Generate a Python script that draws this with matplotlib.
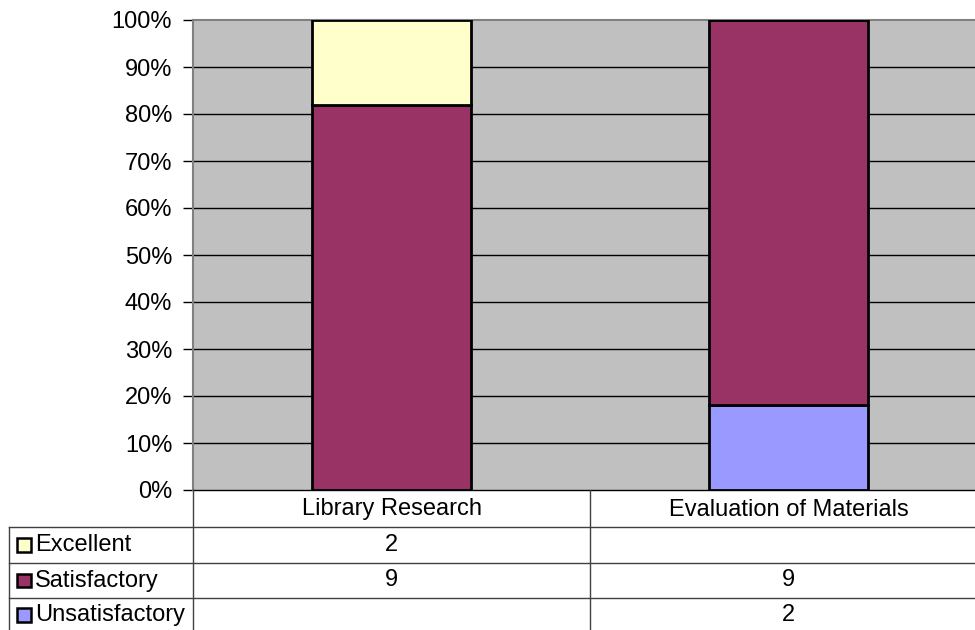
import matplotlib
matplotlib.use("Agg")
import matplotlib.pyplot as plt
from matplotlib.patches import Rectangle
import numpy as np

plt.rcParams['font.family'] = ['Liberation Sans', 'DejaVu Sans']

categories = ["Library Research", "Evaluation of Materials"]
series_names = ["Unsatisfactory", "Satisfactory", "Excellent"]
unsatisfactory = [None, 2]
satisfactory = [9, 9]
excellent = [2, None]
colors = {"Excellent": "#FFFFCC", "Satisfactory": "#993366", "Unsatisfactory": "#9999FF"}
yticks = [0, 10, 20, 30, 40, 50, 60, 70, 80, 90, 100]

W, H = 975, 630
FS = 17
fig = plt.figure(figsize=(W / 100, H / 100), dpi=100)
fig.patch.set_facecolor("white")

# plot area in pixel coordinates
L, R, T, B = 193, 987, 20, 490
ax = fig.add_axes([L / W, (H - B) / H, (R - L) / W, (B - T) / H])
ax.set_facecolor("#C0C0C0")

vals = {"Unsatisfactory": unsatisfactory, "Satisfactory": satisfactory, "Excellent": excellent}
x = np.arange(len(categories))
totals = np.zeros(len(categories))
for s in series_names:
    for i in range(len(categories)):
        v = vals[s][i]
        totals[i] += v if v else 0
bottom = np.zeros(len(categories))
for s in series_names:
    v = np.array([vv if vv else 0 for vv in vals[s]], dtype=float)
    pct = v / totals * 100
    ax.bar(x, pct, bottom=bottom, width=0.4, color=colors[s], edgecolor="black",
           linewidth=2, zorder=3)
    bottom += pct

ax.set_xlim(-0.5, len(categories) - 0.5)
ax.set_ylim(0, 100)
ax.set_yticks(yticks)
ax.set_yticklabels([f"{t}%" for t in yticks], fontsize=FS)
ax.set_xticks([])
ax.tick_params(axis="y", direction="out", length=7, width=1, color="black", pad=8)
for t in yticks[1:-1]:
    ax.axhline(t, color="black", linewidth=1, zorder=1)
for side in ["left", "top"]:
    ax.spines[side].set_color("#808080")
    ax.spines[side].set_linewidth(1.5)
ax.spines["right"].set_visible(False)
ax.spines["bottom"].set_color("black")
ax.spines["bottom"].set_linewidth(1)

# data table overlay
tab = fig.add_axes([0, 0, 1, 1], zorder=5)
tab.set_xlim(0, W)
tab.set_ylim(H, 0)
tab.axis("off")
tab.patch.set_alpha(0)

row_lines = [527, 563, 598, 634]
header_top = 490
table_left = 9
cat_w = (R - L) / len(categories)
lc = "#404040"
for y in row_lines[:-1]:
    tab.plot([table_left, W + 20], [y, y], color=lc, linewidth=1, clip_on=False)
tab.plot([L, L], [header_top, H + 10], color=lc, linewidth=1, clip_on=False)
for i in range(1, len(categories)):
    xv = L + cat_w * i
    tab.plot([xv, xv], [header_top, H + 10], color=lc, linewidth=1, clip_on=False)
tab.plot([table_left, table_left], [row_lines[0], H + 10], color=lc, linewidth=1, clip_on=False)

for i, c in enumerate(categories):
    tab.text(L + cat_w * (i + 0.5), (header_top + row_lines[0]) / 2 + 1, c,
             ha="center", va="center", fontsize=FS)

rows = ["Excellent", "Satisfactory", "Unsatisfactory"]
for r, name in enumerate(rows):
    y0, y1 = row_lines[r], row_lines[r + 1]
    yc = (y0 + y1) / 2
    if r == len(rows) - 1:
        yc = (y0 + H) / 2 + 1
    tab.add_patch(Rectangle((17, yc - 7), 13.5, 13.5, facecolor=colors[name],
                            edgecolor="black", linewidth=1.8))
    tab.text(35, yc, name, ha="left", va="center", fontsize=FS)
    for i in range(len(categories)):
        v = vals[name][i]
        if v:
            tab.text(L + cat_w * (i + 0.5), yc, str(v), ha="center", va="center", fontsize=FS)

fig.savefig("out.png", dpi=100)
